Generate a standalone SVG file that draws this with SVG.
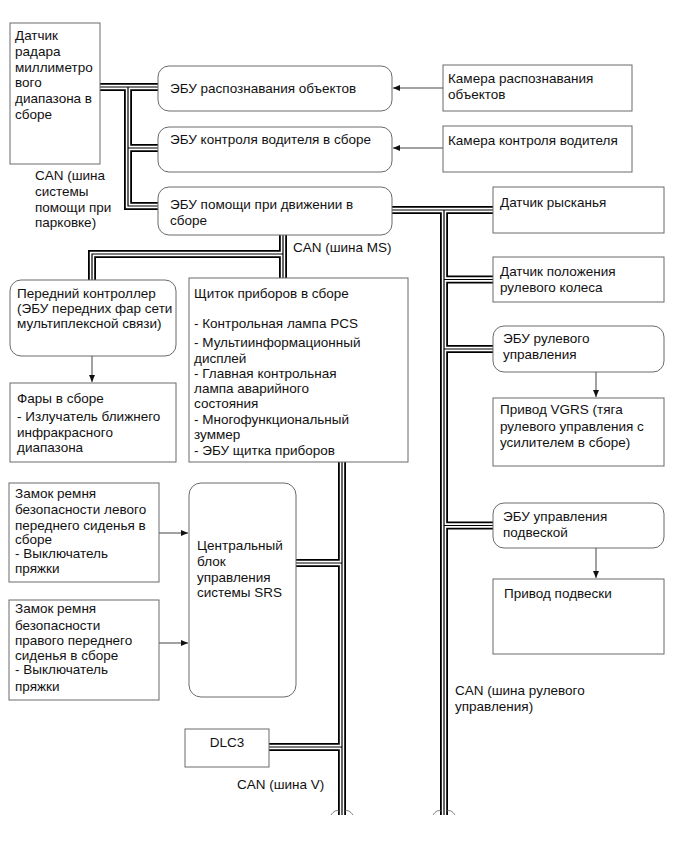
<svg xmlns="http://www.w3.org/2000/svg" xmlns:xlink="http://www.w3.org/1999/xlink" width="686" height="856" viewBox="0 0 686 856">
<style>
text{font-family:"Liberation Sans",Arial,sans-serif;font-size:13.5px;fill:#111}
.box{fill:#fff;stroke:#6a6a6a;stroke-width:1}
.k1{fill:none;stroke:#000;stroke-width:8}
.k2{fill:none;stroke:#fff;stroke-width:4.4}
.k3{fill:none;stroke:#000;stroke-width:1.2}
.arr{fill:none;stroke:#444;stroke-width:1;marker-end:url(#ah)}
.brk{fill:none;stroke:#666;stroke-width:0.8}
</style>
<defs>
<marker id="ah" markerUnits="userSpaceOnUse" markerWidth="8" markerHeight="6" refX="7" refY="3" orient="auto">
<path d="M0,0 L7,3 L0,6 Z" fill="#111"/>
</marker>
<path id="bus" d="M100,87 H158 M128,87 V206 H158 M128,148 H158 M392,210 H493 M444,210 V815 M444,279.5 H493 M444,349 H493 M444,525.5 H493 M283,235 V278 M283,254 H92 V280 M342,462 V815 M296,563 H342 M269,747 H342"/>
</defs>
<g id="connectors">
<use xlink:href="#bus" class="k1"/>
<use xlink:href="#bus" class="k2"/>
<use xlink:href="#bus" class="k3"/>
<path class="brk" d="M331,815 Q335,809 339,811 M345,811 Q349,809 353,815 M433,815 Q437,809 441,811 M447,811 Q451,809 455,815"/>
<path class="arr" d="M443,88 H393"/>
<path class="arr" d="M443,148 H393"/>
<path class="arr" d="M92,356 V382"/>
<path class="arr" d="M596,372 V397"/>
<path class="arr" d="M596,548 V578"/>
<path class="arr" d="M159,533 H188"/>
<path class="arr" d="M159,643 H188"/>
</g>
<g id="radar">
<rect class="box" x="10" y="23" width="90" height="141"/>
<text x="15"><tspan x="15" y="40">Датчик</tspan><tspan x="15" y="55.8">радара</tspan><tspan x="15" y="71.6">миллиметро</tspan><tspan x="15" y="87.4">вого</tspan><tspan x="15" y="103.2">диапазона в</tspan><tspan x="15" y="119">сборе</tspan></text>
</g>
<g id="can-parking">
<text><tspan x="35" y="180">CAN (шина</tspan><tspan x="35" y="196">системы</tspan><tspan x="35" y="212">помощи при</tspan><tspan x="35" y="227">парковке)</tspan></text>
</g>
<g id="ecu-object">
<rect class="box" x="158" y="66" width="234" height="45" rx="11"/>
<text x="170" y="93">ЭБУ распознавания объектов</text>
</g>
<g id="ecu-driver">
<rect class="box" x="158" y="127" width="234" height="45" rx="11"/>
<text x="170" y="144">ЭБУ контроля водителя в сборе</text>
</g>
<g id="ecu-assist">
<rect class="box" x="158" y="187" width="234" height="48" rx="11"/>
<text><tspan x="170" y="209">ЭБУ помощи при движении в</tspan><tspan x="170" y="225">сборе</tspan></text>
</g>
<g id="camera-object">
<rect class="box" x="443" y="65" width="189" height="46"/>
<text><tspan x="448" y="83">Камера распознавания</tspan><tspan x="448" y="99">объектов</tspan></text>
</g>
<g id="camera-driver">
<rect class="box" x="443" y="126" width="189" height="46"/>
<text x="448" y="145">Камера контроля водителя</text>
</g>
<g id="yaw">
<rect class="box" x="493" y="187" width="171" height="46"/>
<text x="500" y="206.5">Датчик рысканья</text>
</g>
<g id="steer-sensor">
<rect class="box" x="493" y="257" width="171" height="45"/>
<text><tspan x="500" y="275.5">Датчик положения</tspan><tspan x="500" y="292">рулевого колеса</tspan></text>
</g>
<g id="steer-ecu">
<rect class="box" x="493" y="326" width="171" height="46" rx="11"/>
<text><tspan x="503" y="343">ЭБУ рулевого</tspan><tspan x="503" y="359">управления</tspan></text>
</g>
<g id="vgrs">
<rect class="box" x="493" y="398" width="171" height="68"/>
<text><tspan x="500" y="414">Привод VGRS (тяга</tspan><tspan x="500" y="431">рулевого управления с</tspan><tspan x="500" y="447">усилителем в сборе)</tspan></text>
</g>
<g id="susp-ecu">
<rect class="box" x="493" y="503" width="171" height="45" rx="11"/>
<text><tspan x="503" y="521">ЭБУ управления</tspan><tspan x="503" y="537">подвеской</tspan></text>
</g>
<g id="susp-act">
<rect class="box" x="493" y="579" width="171" height="75"/>
<text x="504" y="598">Привод подвески</text>
</g>
<g id="can-steer">
<text><tspan x="455" y="695">CAN (шина рулевого</tspan><tspan x="455" y="711">управления)</tspan></text>
</g>
<g id="can-ms">
<text x="293" y="252">CAN (шина MS)</text>
</g>
<g id="front-ctrl">
<rect class="box" x="10" y="280" width="166" height="76" rx="11"/>
<text><tspan x="17" y="298">Передний контроллер</tspan><tspan x="17" y="313">(ЭБУ передних фар сети</tspan><tspan x="17" y="328">мультиплексной связи)</tspan></text>
</g>
<g id="headlights">
<rect class="box" x="10" y="383" width="166" height="79"/>
<text><tspan x="17" y="403">Фары в сборе</tspan><tspan x="17" y="420.5">- Излучатель ближнего</tspan><tspan x="17" y="436.5">инфракрасного</tspan><tspan x="17" y="451.5">диапазона</tspan></text>
</g>
<g id="cluster">
<rect class="box" x="189" y="278" width="219" height="184"/>
<text><tspan x="194" y="298">Щиток приборов в сборе</tspan><tspan x="194" y="328">- Контрольная лампа PCS</tspan><tspan x="194" y="347">- Мультиинформационный</tspan><tspan x="194" y="363">дисплей</tspan><tspan x="194" y="378">- Главная контрольная</tspan><tspan x="194" y="393">лампа аварийного</tspan><tspan x="194" y="408">состояния</tspan><tspan x="194" y="424">- Многофункциональный</tspan><tspan x="194" y="439">зуммер</tspan><tspan x="194" y="455">- ЭБУ щитка приборов</tspan></text>
</g>
<g id="belt-left">
<rect class="box" x="9" y="483" width="150" height="99"/>
<text><tspan x="15" y="498">Замок ремня</tspan><tspan x="15" y="514">безопасности левого</tspan><tspan x="15" y="529.5">переднего сиденья в</tspan><tspan x="15" y="544">сборе</tspan><tspan x="15" y="557.5">- Выключатель</tspan><tspan x="15" y="573">пряжки</tspan></text>
</g>
<g id="belt-right">
<rect class="box" x="9" y="600" width="150" height="100"/>
<text><tspan x="15" y="613">Замок ремня</tspan><tspan x="15" y="629.5">безопасности</tspan><tspan x="15" y="645">правого переднего</tspan><tspan x="15" y="660">сиденья в сборе</tspan><tspan x="15" y="674">- Выключатель</tspan><tspan x="15" y="691">пряжки</tspan></text>
</g>
<g id="srs">
<rect class="box" x="189" y="483" width="107" height="214" rx="12"/>
<text><tspan x="197" y="550">Центральный</tspan><tspan x="197" y="566">блок</tspan><tspan x="197" y="582">управления</tspan><tspan x="197" y="597">системы SRS</tspan></text>
</g>
<g id="dlc3">
<rect class="box" x="185" y="729" width="84" height="38"/>
<text x="227" y="747" text-anchor="middle">DLC3</text>
</g>
<g id="can-v">
<text x="237" y="789">CAN (шина V)</text>
</g>
</svg>
